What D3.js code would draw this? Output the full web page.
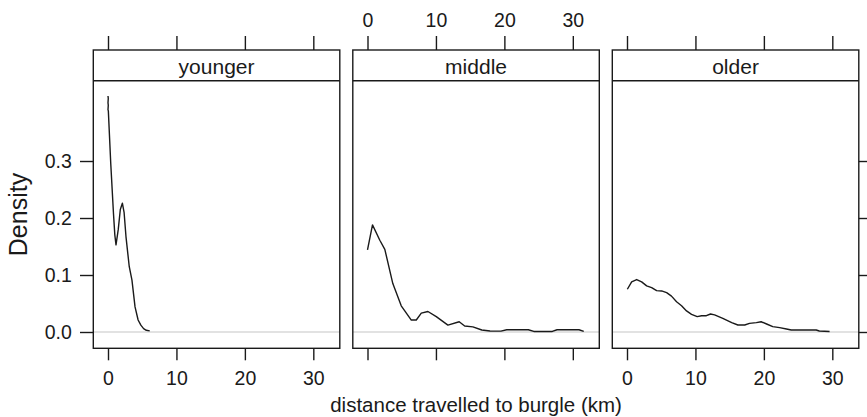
<!DOCTYPE html>
<html><head><meta charset="utf-8">
<script src="https://cdnjs.cloudflare.com/ajax/libs/d3/7.8.5/d3.min.js"></script>
<style>body{margin:0;background:#fff}svg{display:block}text{font-family:"Liberation Sans",Arial,Helvetica,sans-serif;fill:#1a1a1a}</style>
</head><body><svg id="c" width="867" height="417"></svg>
<script>
const panels = ["younger", "middle", "older"];
const youngerX = [0, 0.04, 0.0, 0.04, 0.0, 0.05, 0.4, 0.8, 1.0, 1.17, 1.5, 1.8, 2.1, 2.35, 2.63, 3.1, 3.5, 3.95, 4.4, 4.8, 5.2, 5.6, 6.1];
const youngerY = [0.414, 0.41, 0.402, 0.398, 0.39, 0.388, 0.296, 0.208, 0.17, 0.153, 0.18, 0.215, 0.226, 0.21, 0.167, 0.115, 0.091, 0.044, 0.021, 0.012, 0.006, 0.003, 0.002];
const middleX = [0, 0.73, 1.8, 2.53, 3.7, 4.93, 6.4, 7.13, 7.86, 8.83, 10.05, 11.75, 13.4, 14.2, 15.4, 16.7, 17.9, 19.5, 20.35, 23.5, 24.3, 27.0, 27.7, 30.9, 31.6];
const middleY = [0.144, 0.188, 0.161, 0.145, 0.085, 0.046, 0.021, 0.021, 0.033, 0.036, 0.027, 0.012, 0.018, 0.0105, 0.009, 0.0035, 0.0017, 0.0015, 0.004, 0.004, 0.001, 0.001, 0.004, 0.004, 0.001];
const olderX = [0.05, 0.68, 1.41, 2.14, 2.87, 3.6, 4.33, 5.06, 5.79, 6.5, 7.24, 7.97, 8.7, 9.43, 10.26, 10.9, 11.6, 12.2, 12.8, 14.0, 15.3, 16.2, 17.2, 17.9, 18.9, 19.6, 20.4, 21.3, 22.3, 23.3, 24.0, 27.65, 28.1, 29.6];
const olderY = [0.075, 0.088, 0.092, 0.088, 0.081, 0.078, 0.0725, 0.072, 0.069, 0.063, 0.053, 0.046, 0.037, 0.031, 0.027, 0.0286, 0.0286, 0.0316, 0.030, 0.024, 0.0164, 0.0123, 0.0123, 0.0152, 0.0164, 0.018, 0.014, 0.0094, 0.0076, 0.0053, 0.0035, 0.0035, 0.0018, 0.001];
const xTicks = [0, 10, 20, 30];
const yTicks = [0.0, 0.1, 0.2, 0.3];
const xLabel = "distance travelled to burgle (km)";
const yLabel = "Density";

const series = [
  youngerX.map((x, i) => [x, youngerY[i]]),
  middleX.map((x, i) => [x, middleY[i]]),
  olderX.map((x, i) => [x, olderY[i]])
];

const svg = d3.select("#c");
const L0 = 93.3, PW = 246.5, GAP = 13;
const stripTop = 50, stripBot = 80.7, panelBot = 348.3;
const x = d3.scaleLinear().domain([-2.148, 33.87]).range([0, PW]);
const y = d3.scaleLinear().domain([-0.0286, 0.4409]).range([panelBot, stripBot]);
const ink = "#1a1a1a";

panels.forEach((name, i) => {
  const left = L0 + i * (PW + GAP);
  const g = svg.append("g").attr("transform", `translate(${left},0)`);
  g.append("line").attr("x1", 0).attr("x2", PW).attr("y1", y(0)).attr("y2", y(0))
    .attr("stroke", "#d9d9d9").attr("stroke-width", 1.3);
  g.append("path").datum(series[i])
    .attr("d", d3.line().x(d => x(d[0])).y(d => y(d[1])))
    .attr("fill", "none").attr("stroke", ink).attr("stroke-width", 1.4).attr("stroke-linejoin", "round");
  g.append("rect").attr("x", 0).attr("y", stripTop).attr("width", PW).attr("height", panelBot - stripTop)
    .attr("fill", "none").attr("stroke", ink).attr("stroke-width", 1.4);
  g.append("line").attr("x1", 0).attr("x2", PW).attr("y1", stripBot).attr("y2", stripBot)
    .attr("stroke", ink).attr("stroke-width", 1.4);
  g.append("text").attr("x", PW / 2).attr("y", 73.5).attr("text-anchor", "middle")
    .style("font-size", "21px").text(name);
  const top = g.append("g").attr("transform", `translate(0,${stripTop})`)
    .call(d3.axisTop(x).tickValues(xTicks).tickSize(14).tickSizeOuter(0).tickFormat(i === 1 ? d3.format("d") : () => ""));
  const bot = g.append("g").attr("transform", `translate(0,${panelBot})`)
    .call(d3.axisBottom(x).tickValues(xTicks).tickSize(12).tickSizeOuter(0).tickFormat(i !== 1 ? d3.format("d") : () => ""));
  [top, bot].forEach(a => {
    a.select(".domain").remove();
    a.selectAll("line").attr("stroke", ink).attr("stroke-width", 1.4);
    a.selectAll("text").attr("fill", ink).style("font-size", "19.5px").style("font-family", "Liberation Sans, Arial, sans-serif");
  });
  top.selectAll("text").attr("dy", 0).attr("y", -23.5);
  bot.selectAll("text").attr("dy", 0).attr("y", 37);
  if (i === 0) {
    const ya = g.append("g").call(d3.axisLeft(y).tickValues(yTicks).tickSize(13.3).tickSizeOuter(0).tickFormat(d3.format(".1f")));
    ya.select(".domain").remove();
    ya.selectAll("line").attr("stroke", ink).attr("stroke-width", 1.4);
    ya.selectAll("text").attr("fill", ink).style("font-size", "19.5px").style("font-family", "Liberation Sans, Arial, sans-serif")
      .attr("x", -21.5).attr("dy", "0.35em");
  }
  if (i === 2) {
    const ya = g.append("g").attr("transform", `translate(${PW},0)`)
      .call(d3.axisRight(y).tickValues(yTicks).tickSize(13.3).tickSizeOuter(0).tickFormat(() => ""));
    ya.select(".domain").remove();
    ya.selectAll("line").attr("stroke", ink).attr("stroke-width", 1.4);
  }
});

svg.append("text").attr("x", L0 + (3 * PW + 2 * GAP) / 2).attr("y", 411.5).attr("text-anchor", "middle")
  .style("font-size", "20.5px").text(xLabel);
svg.append("text").attr("transform", `translate(27,${(stripBot + panelBot) / 2}) rotate(-90)`).attr("text-anchor", "middle")
  .style("font-size", "25px").text(yLabel);
</script></body></html>
